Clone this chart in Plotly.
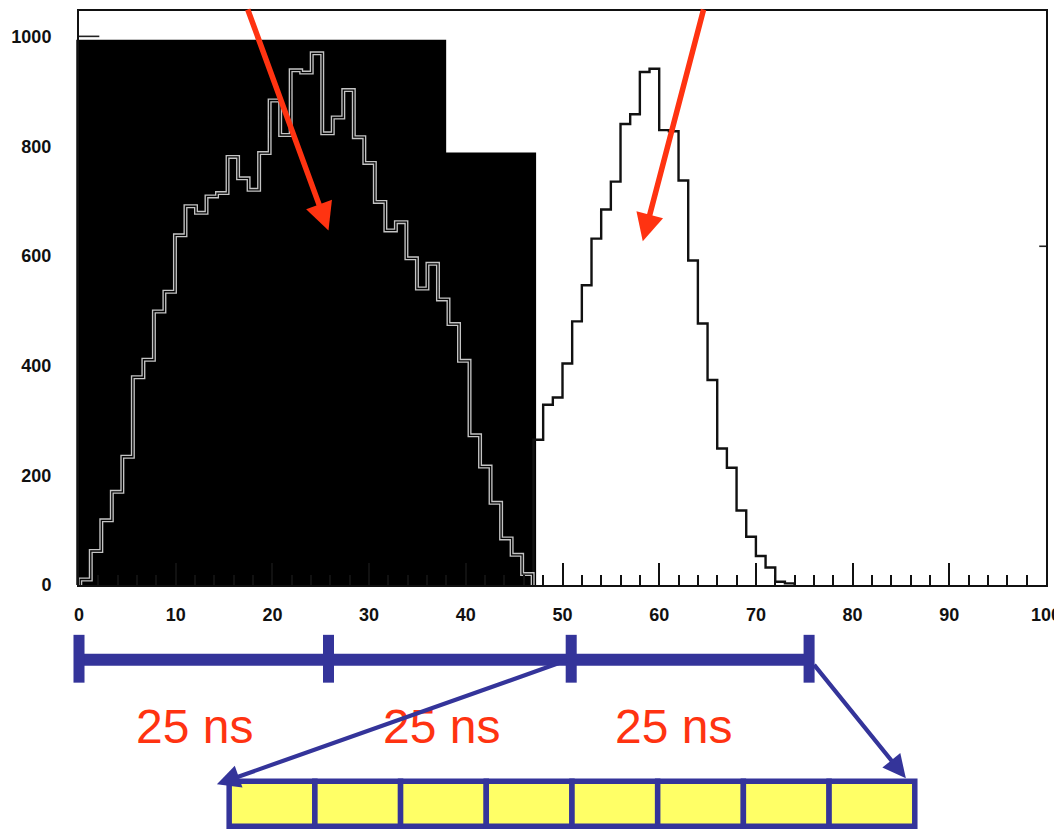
import numpy as np
import plotly.graph_objects as go

# ---------------- data ----------------
# Histogram 1 (shown inverted inside the black mask)
h1_start = 0.13
h1_width = 1.088
h1_counts = [10, 62, 118, 170, 234, 379, 411, 499, 535, 638, 691, 679, 709, 715,
             781, 742, 721, 788, 884, 821, 939, 935, 970, 824, 853, 903, 817, 770,
             699, 647, 662, 596, 541, 586, 521, 476, 409, 273, 216, 150, 85, 55, 20]

# Histogram 2 (black line on white)
h2_start = 47.0
h2_width = 1.0
h2_counts = [265, 329, 342, 404, 481, 547, 632, 685, 736, 841, 859, 936, 942, 830,
             828, 738, 592, 477, 374, 249, 214, 136, 88, 53, 32, 6, 3]

x_ticks = list(range(0, 101, 10))
y_ticks = list(range(0, 1001, 200))

# black mask over the left part (x-extent, height)
mask_x = [-0.28, 37.97, 47.27]
mask_top = [995, 789]

# bunch-crossing timeline (x positions in axis units)
bunch_marks = [0.0, 25.8, 50.9, 75.5]
bunch_labels = ["25 ns", "25 ns", "25 ns"]
bunch_label_x = [11.9, 37.5, 61.5]

# readout cells
n_cells = 8
cells_x = [15.53, 86.43]

# red arrows: tip positions (axis units)
red_tips_x = [25.8, 58.3]
red_tips_y = [647, 627]

NAVY = "#34349A"
RED = "#FF3311"

# ---------------- geometry helpers ----------------
OFF = 8                      # page body margin
W, H = 1062 - OFF, 829 - OFF
ML, MR, MT, MB = 79 - OFF, 15, 1, 244
PW, PH = W - ML - MR, H - MT - MB
PX_PER_UNIT_Y = 0.55
Y_TOP = PH / PX_PER_UNIT_Y
BASE = OFF + H - MB          # page row of y = 0
LEFT = OFF + ML              # page column of x = 0


def ypap(py):
    """page pixel row -> paper y"""
    return (BASE - py) / PH


def xpap(px):
    """page pixel column -> paper x"""
    return (px - LEFT) / PW


def step_xy(start, width, counts):
    edges = start + width * np.arange(len(counts) + 1)
    x = np.concatenate([[edges[0]], edges])
    y = np.concatenate([[0], counts, [0]])
    return x, y


fig = go.Figure()

x1, y1 = step_xy(h1_start, h1_width, h1_counts)
x2, y2 = step_xy(h2_start, h2_width, h2_counts)

fig.add_trace(go.Scatter(x=x2, y=y2, mode="lines", line=dict(shape="hv", color="#111111", width=2.4),
                         hoverinfo="skip"))
fig.add_trace(go.Scatter(x=x1, y=y1, mode="lines", line=dict(shape="hv", color="#c4c4c4", width=4),
                         hoverinfo="skip"))
fig.add_trace(go.Scatter(x=x1, y=y1, mode="lines", line=dict(shape="hv", color="#050505", width=1.3),
                         hoverinfo="skip"))

shapes = []
# black mask (two rectangles)
for i in range(2):
    shapes.append(dict(type="rect", xref="paper", yref="y", layer="below",
                       x0=mask_x[i] / 100 - (0.002 if i else 0), x1=mask_x[i + 1] / 100,
                       y0=-5, y1=mask_top[i], fillcolor="black", line=dict(width=0)))

# small original ticks
shapes.append(dict(type="line", xref="x", yref="y", x0=0, x1=2.1, y0=1001, y1=1001,
                   line=dict(color="#222", width=1.6)))
shapes.append(dict(type="line", xref="x", yref="y", x0=99.3, x1=100, y0=618, y1=618,
                   line=dict(color="#222", width=1.6)))

# timeline bar
shapes.append(dict(type="rect", xref="paper", yref="paper",
                   x0=bunch_marks[0] / 100, x1=bunch_marks[-1] / 100,
                   y0=ypap(666), y1=ypap(654), fillcolor=NAVY, line=dict(width=0)))
for m in bunch_marks:
    shapes.append(dict(type="rect", xref="paper", yref="paper",
                       x0=m / 100 - 0.0057, x1=m / 100 + 0.0057,
                       y0=ypap(683), y1=ypap(635), fillcolor=NAVY, line=dict(width=0)))

# readout cells
cw = (cells_x[1] - cells_x[0]) / n_cells
for k in range(n_cells):
    shapes.append(dict(type="rect", xref="paper", yref="paper",
                       x0=(cells_x[0] + k * cw) / 100, x1=(cells_x[0] + (k + 1) * cw) / 100,
                       y0=ypap(827), y1=ypap(782), fillcolor="#FFFF66",
                       line=dict(color=NAVY, width=5.5)))

annotations = []
for lx, lt in zip(bunch_label_x, bunch_labels):
    annotations.append(dict(x=lx / 100, y=ypap(727), xref="paper", yref="paper",
                            text=lt, showarrow=False, xanchor="center", yanchor="middle",
                            font=dict(family="Liberation Sans, Arial", size=48, color=RED)))

# red arrows
red_offsets = [(-81.3, -234.3), (61.2, -245)]
for tx, ty, (ax, ay) in zip(red_tips_x, red_tips_y, red_offsets):
    annotations.append(dict(x=tx, y=ty, xref="x", yref="y", text="", showarrow=True,
                            ax=ax, ay=ay, arrowhead=2, arrowsize=1.0, arrowwidth=5.5,
                            arrowcolor=RED, standoff=0))

# blue arrows from timeline to readout cells
blue = [(xpap(217), ypap(785), 351.4, -124.5),
        (xpap(906.7), ypap(779), -92.9, -115)]
for bx, by, ax, ay in blue:
    annotations.append(dict(x=bx, y=by, xref="paper", yref="paper", text="", showarrow=True,
                            ax=ax, ay=ay, arrowhead=2, arrowsize=1.1, arrowwidth=4.2,
                            arrowcolor=NAVY, standoff=0))

tickfont = dict(family="Liberation Sans, Arial", size=18, color="#111111", weight="bold")

fig.update_layout(
    width=W, height=H,
    margin=dict(l=ML, r=MR, t=MT, b=MB),
    paper_bgcolor="white", plot_bgcolor="white",
    showlegend=False,
    shapes=shapes, annotations=annotations,
    xaxis=dict(range=[0, 100], tickvals=x_ticks, ticktext=[str(v) for v in x_ticks],
               ticks="inside", ticklen=22, tickwidth=1.8, tickcolor="#111111",
               minor=dict(ticks="inside", dtick=2, tick0=0, ticklen=10, tickwidth=1.5,
                          tickcolor="#111111"),
               showline=True, mirror=True, linecolor="#111111", linewidth=2,
               showgrid=False, zeroline=False, tickfont=tickfont, ticklabelstandoff=12,
               ticklabeloverflow="allow"),
    yaxis=dict(range=[0, Y_TOP], tickvals=y_ticks, ticktext=[str(v) for v in y_ticks],
               ticks="", showline=True, mirror=True, linecolor="#111111", linewidth=2,
               showgrid=False, zeroline=False, tickfont=tickfont, ticklabelstandoff=22),
)

fig.write_html("out.html")
